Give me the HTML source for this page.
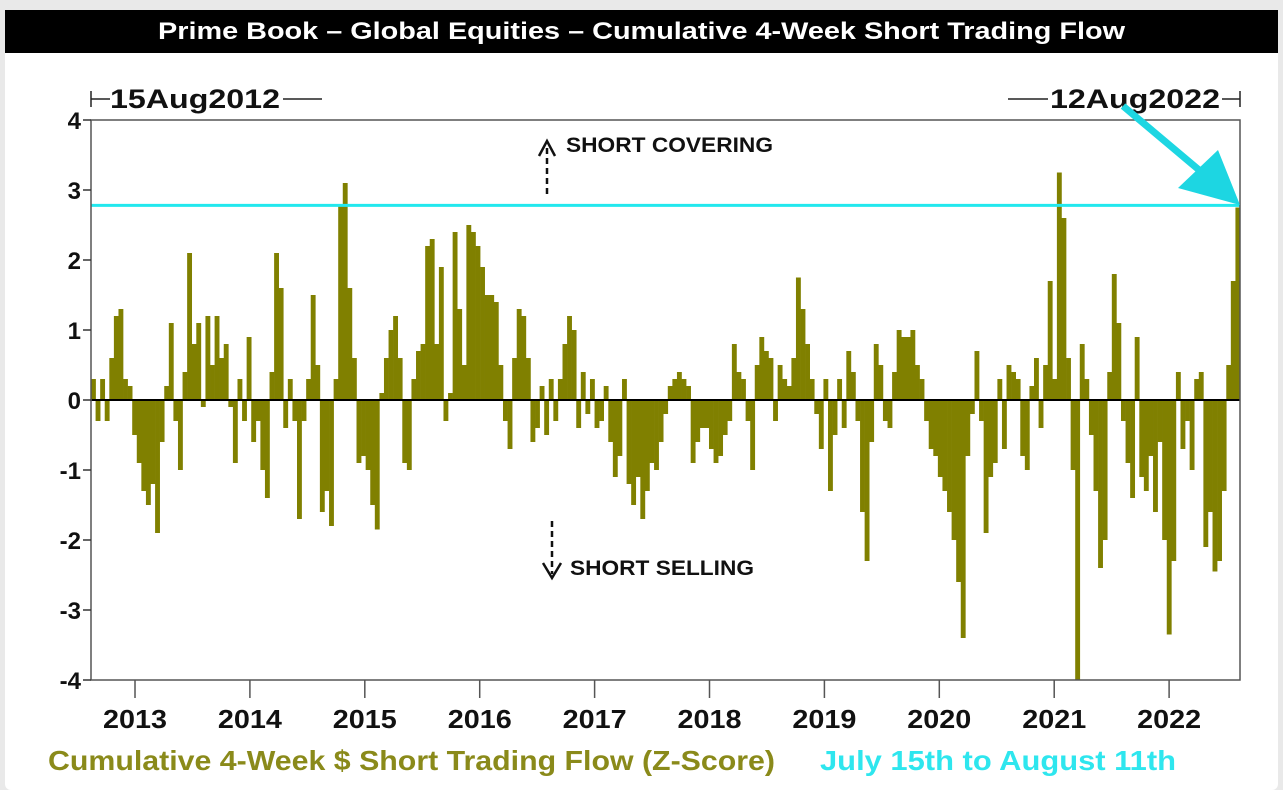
<!DOCTYPE html>
<html><head><meta charset="utf-8">
<style>
html,body{margin:0;padding:0;background:#e9e9e9;}
body{width:1283px;height:778px;overflow:hidden;position:relative;font-family:"Liberation Sans",sans-serif;}
#card{position:absolute;left:5px;top:10px;width:1273px;height:780px;background:#fff;border-radius:6px;}
#title{position:absolute;left:5px;top:10px;width:1273px;height:43px;background:#000;}
</style></head><body>
<div id="card"></div>
<div id="title"></div>
<svg id="chart" width="1283" height="778" style="position:absolute;left:0;top:0"></svg>
<script>
const yTicks=[4,3,2,1,0,-1,-2,-3,-4];
const yearLabels=["2013","2014","2015","2016","2017","2018","2019","2020","2021","2022"];
const yearPos=[0.383,1.383,2.383,3.383,4.383,5.383,6.383,7.383,8.383,9.383];
const currentLevel=2.78;
const values=[
0.3,-0.3,0.3,-0.3,0.6,1.2,1.3,0.3,0.2,
-0.5,-0.9,-1.3,-1.5,-1.2,-1.9,-0.6,0.2,1.1,-0.3,-1.0,0.4,2.1,0.8,1.1,-0.1,1.2,0.5,1.2,0.6,0.8,-0.1,-0.9,0.3,-0.3,
0.9,-0.6,-0.3,-1.0,-1.4,0.4,2.1,1.6,-0.4,0.3,-0.3,-1.7,-0.3,0.3,1.5,0.5,-1.6,-1.3,-1.8,0.3,2.8,3.1,1.6,0.6,-0.9,
-0.8,-1.0,-1.5,-1.85,0.1,0.6,1.0,1.2,0.6,-0.9,-1.0,0.3,0.7,0.8,2.2,2.3,0.8,1.9,-0.3,0.1,2.4,1.3,0.5,2.5,2.4,
2.2,1.9,1.5,1.5,1.4,0.5,-0.3,-0.7,0.6,1.3,1.2,0.6,-0.6,-0.4,0.2,-0.5,0.3,-0.3,0.3,0.8,1.2,1.0,-0.4,0.4,-0.2,
0.3,-0.4,-0.3,0.2,-0.6,-1.1,-0.8,0.3,-1.2,-1.5,-1.1,-1.7,-1.3,-0.9,-1.0,-0.6,-0.2,0.2,0.3,0.4,0.3,0.2,-0.9,-0.6,-0.4,
-0.4,-0.7,-0.9,-0.8,-0.5,-0.3,0.8,0.4,0.3,-0.3,-1.0,0.5,0.9,0.7,0.6,-0.3,0.5,0.3,0.2,0.6,1.75,1.3,0.8,0.3,-0.2,
-0.7,0.3,-1.3,-0.5,0.3,-0.4,0.7,0.4,-0.3,-1.6,-2.3,-0.6,0.8,0.5,-0.3,-0.4,0.4,1.0,0.9,0.9,1.0,0.5,0.3,-0.3,-0.7,
-0.8,-1.1,-1.3,-1.6,-2.0,-2.6,-3.4,-0.8,-0.2,0.7,-0.3,-1.9,-1.1,-0.9,0.3,-0.7,0.5,0.4,0.3,-0.8,-1.0,0.2,0.6,-0.4,0.5,
1.7,0.3,3.25,2.6,0.6,-1.0,-4.0,0.8,0.3,-0.5,-1.3,-2.4,-2.0,0.4,1.8,1.1,-0.3,-0.9,-1.4,0.9,-1.1,-1.3,-0.8,-1.6,-0.6,
-2.0,-3.35,-2.3,0.4,-0.7,-0.3,-1.0,0.3,0.4,-2.1,-1.6,-2.45,-2.3,-1.3,0.5,1.7,2.75
];
const L=91,R=1240,T=120,B=680;
const NS="http://www.w3.org/2000/svg";
const svg=document.getElementById('chart');
const y=v=>T+(4-v)/8*(B-T);
const span=10;
const xt=t=>L+t/span*(R-L);
function mk(tag,attrs,parent){const e=document.createElementNS(NS,tag);for(const k in attrs)e.setAttribute(k,attrs[k]);(parent||svg).appendChild(e);return e;}
const n=values.length,bw=(R-L)/n;
values.forEach((v,i)=>{
  const x=L+i*bw;
  const r=mk('rect',{x:x.toFixed(2),y:Math.min(y(v),y(0)).toFixed(2),width:(bw+0.3).toFixed(2),height:Math.abs(y(v)-y(0)).toFixed(2),fill:'#808000'});
  
  
});
const zl=mk('line',{x1:L,x2:R,y1:y(0),y2:y(0),stroke:'#000','stroke-width':2});


const cl=mk('line',{x1:L,x2:R,y1:y(currentLevel),y2:y(currentLevel),stroke:'#22e8ee','stroke-width':3});


const fr=mk('rect',{x:L,y:T,width:R-L,height:B-T,fill:'none',stroke:'#555','stroke-width':1.5});


yTicks.forEach(v=>{
  mk('line',{x1:L-8,x2:L,y1:y(v),y2:y(v),stroke:'#333','stroke-width':1.5});
  const t=mk('text',{x:L-10,y:y(v)+9,'text-anchor':'end','font-size':24,'font-weight':'bold',fill:'#111','font-family':'Liberation Sans, sans-serif'});
  t.textContent=v;
  
  
});
yearLabels.forEach((lab,i)=>{
  const x=xt(yearPos[i]);
  mk('line',{x1:x,x2:x,y1:B,y2:B+18,stroke:'#555','stroke-width':1.5});
  const t=mk('text',{x:x,y:B+48,'text-anchor':'middle','font-size':26,'font-weight':'bold',fill:'#111','font-family':'Liberation Sans, sans-serif',textLength:64,lengthAdjust:'spacingAndGlyphs'});
  t.textContent=lab;
  
  
});
</script>
<svg width="1283" height="778" style="position:absolute;left:0;top:0">
  <text x="158" y="39" font-family="Liberation Sans, sans-serif" font-weight="bold" font-size="24" fill="#fff" textLength="967" lengthAdjust="spacingAndGlyphs">Prime Book – Global Equities – Cumulative 4-Week Short Trading Flow</text>
  <g font-family="Liberation Sans, sans-serif" font-weight="bold" fill="#111">
    <g>
      <line x1="91" y1="91" x2="91" y2="107" stroke="#222" stroke-width="1.5"/>
      <line x1="91" y1="99" x2="110" y2="99" stroke="#222" stroke-width="1.5"/>
      <text x="110" y="108" font-size="27" textLength="170" lengthAdjust="spacingAndGlyphs">15Aug2012</text>
      <line x1="283" y1="99" x2="322" y2="99" stroke="#222" stroke-width="1.5"/>
    </g>
    <g>
      <line x1="1008" y1="99" x2="1048" y2="99" stroke="#222" stroke-width="1.5"/>
      <text x="1050" y="108" font-size="27" textLength="170" lengthAdjust="spacingAndGlyphs">12Aug2022</text>
      <line x1="1222" y1="99" x2="1240" y2="99" stroke="#222" stroke-width="1.5"/>
      <line x1="1240" y1="91" x2="1240" y2="107" stroke="#222" stroke-width="1.5"/>
    </g>
    <g>
      <line x1="547" y1="194" x2="547" y2="146" stroke="#111" stroke-width="2.5" stroke-dasharray="6,4"/>
      <polyline points="539,156 547,141 555,156" fill="none" stroke="#111" stroke-width="2.5"/>
      <text x="566" y="152" font-size="21" textLength="207" lengthAdjust="spacingAndGlyphs">SHORT COVERING</text>
    </g>
    <g>
      <line x1="552" y1="521" x2="552" y2="574" stroke="#111" stroke-width="2.5" stroke-dasharray="6,4"/>
      <polyline points="543,563 552,578 561,563" fill="none" stroke="#111" stroke-width="2.5"/>
      <text x="570" y="575" font-size="21" textLength="184" lengthAdjust="spacingAndGlyphs">SHORT SELLING</text>
    </g>
  </g>
  <g>
    <line x1="1123" y1="106" x2="1205" y2="175" stroke="#1dd6e2" stroke-width="7"/>
    <polygon points="1218,150 1240,205 1178,188" fill="#1dd6e2"/>
  </g>
  <text x="48" y="770" font-family="Liberation Sans, sans-serif" font-weight="bold" font-size="28" fill="#8a8a1a" textLength="727" lengthAdjust="spacingAndGlyphs">Cumulative 4-Week $ Short Trading Flow (Z-Score)</text>
  <text x="820" y="770" font-family="Liberation Sans, sans-serif" font-weight="bold" font-size="28" fill="#2ee6ee" textLength="356" lengthAdjust="spacingAndGlyphs">July 15th to August 11th</text>
</svg>
</body></html>
